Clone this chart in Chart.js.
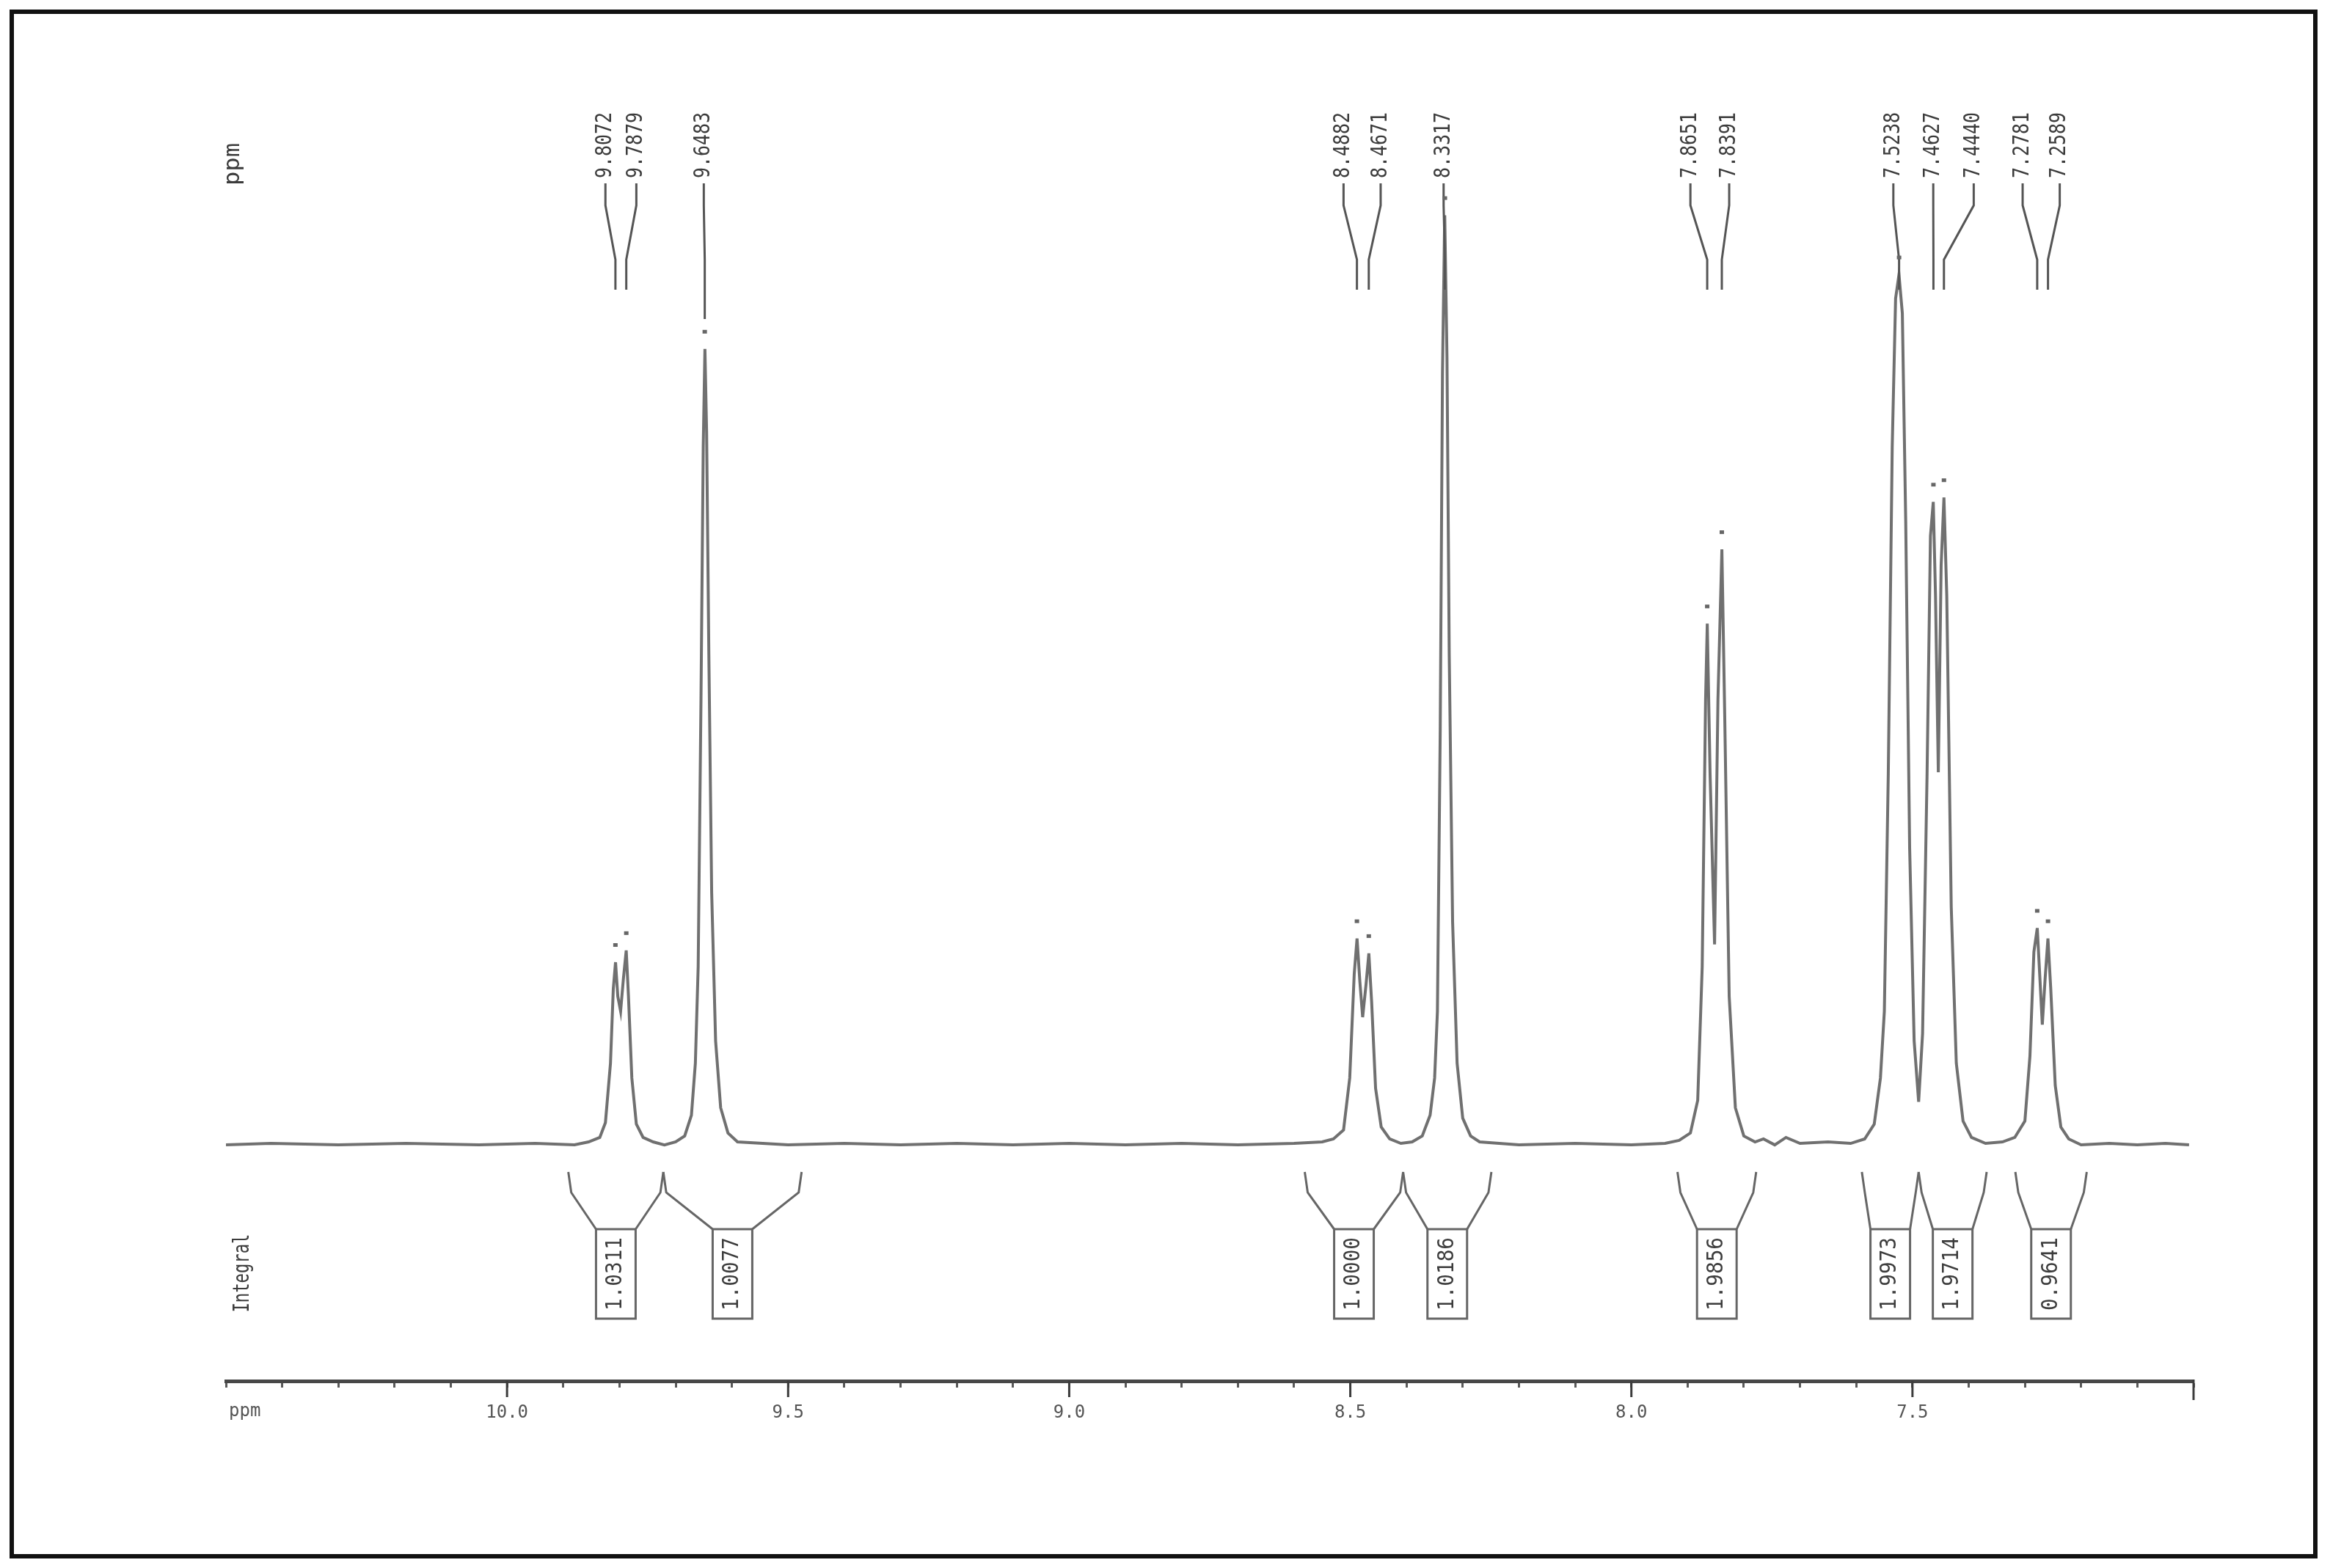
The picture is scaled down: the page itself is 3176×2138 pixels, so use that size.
<!DOCTYPE html>
<html>
<head>
<meta charset="utf-8">
<script src="https://cdn.jsdelivr.net/npm/chart.js@4.4.1/dist/chart.umd.min.js"></script>
<style>
  html, body { margin: 0; padding: 0; background: #fff; }
  canvas { display: block; }
</style>
</head>
<body>
<canvas id="spectrum" width="3176" height="2138"></canvas>
<script>
// 1H trace: chemical shift (ppm) and intensity (arbitrary units)
const shiftPpm = [
  10.50, 10.42, 10.30, 10.18, 10.05, 9.95, 9.88, 9.855, 9.835, 9.825,
  9.816, 9.811, 9.807, 9.803, 9.798, 9.793, 9.788, 9.784, 9.778, 9.770,
  9.758, 9.740, 9.720, 9.700, 9.684, 9.672, 9.665, 9.660, 9.655, 9.651,
  9.648, 9.645, 9.641, 9.636, 9.629, 9.620, 9.607, 9.590, 9.50, 9.40,
  9.30, 9.20, 9.10, 9.00, 8.90, 8.80, 8.70, 8.60, 8.55, 8.530,
  8.512, 8.501, 8.493, 8.488, 8.483, 8.478, 8.472, 8.467, 8.462, 8.455,
  8.445, 8.430, 8.410, 8.390, 8.372, 8.358, 8.350, 8.345, 8.340, 8.336,
  8.332, 8.328, 8.324, 8.318, 8.310, 8.300, 8.286, 8.270, 8.20, 8.10,
  8.00, 7.94, 7.915, 7.895, 7.882, 7.874, 7.868, 7.865, 7.860, 7.852,
  7.846, 7.839, 7.834, 7.826, 7.815, 7.800, 7.780, 7.765, 7.745, 7.725,
  7.700, 7.650, 7.610, 7.585, 7.568, 7.557, 7.550, 7.543, 7.536, 7.530,
  7.524, 7.518, 7.512, 7.505, 7.497, 7.489, 7.482, 7.474, 7.468, 7.463,
  7.459, 7.454, 7.449, 7.444, 7.439, 7.431, 7.422, 7.410, 7.395, 7.370,
  7.340, 7.318, 7.300, 7.291, 7.284, 7.278, 7.273, 7.269, 7.264, 7.259,
  7.254, 7.246, 7.236, 7.222, 7.200, 7.150, 7.100, 7.050, 7.008
];
const intensity = [
  0, 1, 0, 1, 0, 1, 0, 2, 5, 15,
  55, 105, 123, 100, 90, 112, 131, 100, 45, 14,
  5, 2, 0, 2, 6, 20, 55, 120, 300, 470,
  536, 480, 330, 170, 70, 25, 8, 2, 0, 1,
  0, 1, 0, 1, 0, 1, 0, 1, 2, 4,
  10, 45, 115, 139, 110, 86, 108, 129, 96, 38,
  12, 4, 1, 2, 6, 20, 45, 90, 280, 520,
  626, 530, 330, 150, 55, 18, 6, 2, 0, 1,
  0, 1, 3, 8, 30, 120, 300, 351, 250, 135,
  300, 401, 290, 100, 25, 6, 2, 4, 0, 5,
  1, 2, 1, 4, 14, 45, 90, 250, 470, 570,
  586, 560, 420, 200, 70, 29, 75, 250, 410, 433,
  370, 251, 390, 436, 370, 160, 55, 16, 5, 1,
  2, 5, 16, 60, 130, 146, 110, 81, 112, 139,
  105, 40, 12, 4, 0, 1, 0, 1, 0
];

// picked peaks
const peakPpm = [9.8072, 9.7879, 9.6483, 8.4882, 8.4671, 8.3317, 7.8651, 7.8391, 7.5238, 7.4627, 7.4440, 7.2781, 7.2589];
const peakHeight = [123, 131, 536, 139, 129, 626, 351, 401, 586, 433, 436, 146, 139];

// integrals
const integralFrom = [9.891, 9.722, 8.581, 8.406, 7.918, 7.590, 7.489, 7.317];
const integralTo = [9.722, 9.476, 8.406, 8.249, 7.778, 7.489, 7.368, 7.190];
const integralValue = ['1.0311', '1.0077', '1.0000', '1.0186', '1.9856', '1.9973', '1.9714', '0.9641'];

// axis
const axisFrom = 7.0;
const axisTo = 10.5;
const labelledTicks = [10.0, 9.5, 9.0, 8.5, 8.0, 7.5];

// layout of the annotation rows (pixels / ppm slots), not data
const labelSlot = [9.825, 9.770, 9.650, 8.512, 8.446, 8.334, 7.895, 7.826, 7.534, 7.463, 7.391, 7.304, 7.238];
const leaderEnd = [395, 395, 435, 395, 395, 395, 395, 395, 395, 395, 395, 395, 395];

const MONO = '"DejaVu Sans Mono", "Liberation Mono", monospace';
const INK = '#3c3c3c';

// rotated text, reading bottom to top, squeezed to a fixed length
function squeezedText(ctx, text, x, y, size, length) {
  ctx.save();
  ctx.translate(x, y);
  ctx.rotate(-Math.PI / 2);
  ctx.font = size + 'px ' + MONO;
  const w = ctx.measureText(text).width;
  ctx.scale(length / w, 1);
  ctx.textAlign = 'center';
  ctx.textBaseline = 'middle';
  ctx.fillText(text, 0, 0);
  ctx.restore();
}

const paperPlugin = {
  id: 'paper',
  beforeDraw(chart) {
    const { ctx, width, height } = chart;
    ctx.save();
    ctx.fillStyle = '#fff';
    ctx.fillRect(0, 0, width, height);
    ctx.restore();
  },
  afterDraw(chart) {
    const { ctx } = chart;
    const xs = chart.scales.x;
    const ys = chart.scales.y;
    const axisY = chart.chartArea.bottom;
    ctx.save();
    ctx.strokeStyle = INK;
    ctx.fillStyle = INK;
    ctx.lineCap = 'butt';

    // longer marks on labelled ticks
    ctx.lineWidth = 3;
    labelledTicks.forEach(v => {
      const px = xs.getPixelForValue(v);
      ctx.beginPath();
      ctx.moveTo(px, axisY);
      ctx.lineTo(px, axisY + 22);
      ctx.stroke();
    });
    // closing mark at the right end
    const endX = xs.getPixelForValue(axisFrom);
    ctx.beginPath();
    ctx.moveTo(endX, axisY - 2);
    ctx.lineTo(endX, axisY + 26);
    ctx.stroke();

    // unit at the left end of the axis
    ctx.font = '24px ' + MONO;
    ctx.textAlign = 'left';
    ctx.textBaseline = 'middle';
    ctx.fillStyle = '#555';
    ctx.fillText('ppm', xs.getPixelForValue(axisTo) + 4, axisY + 42);

    // peak labels with leaders
    ctx.fillStyle = INK;
    ctx.strokeStyle = '#555';
    ctx.lineWidth = 3;
    peakPpm.forEach((p, i) => {
      const lx = xs.getPixelForValue(labelSlot[i]);
      const px = xs.getPixelForValue(p);
      squeezedText(ctx, p.toFixed(4), lx, 198, 30, 90);
      ctx.beginPath();
      ctx.moveTo(lx, 250);
      ctx.lineTo(lx, 280);
      ctx.lineTo(px, 354);
      ctx.lineTo(px, leaderEnd[i]);
      ctx.stroke();
      // peak-pick mark
      const top = ys.getPixelForValue(peakHeight[i]);
      ctx.fillStyle = '#666';
      ctx.fillRect(px - 3, top - 26, 6, 5);
      ctx.fillStyle = INK;
    });
    squeezedText(ctx, 'ppm', 318, 224, 30, 58);

    // integral brackets and boxes
    ctx.strokeStyle = '#666';
    ctx.lineWidth = 3;
    integralFrom.forEach((a, i) => {
      const xl = xs.getPixelForValue(a);
      const xr = xs.getPixelForValue(integralTo[i]);
      const cx = (xl + xr) / 2;
      const bl = cx - 27, br = cx + 27;
      ctx.beginPath();
      ctx.moveTo(xl, 1598);
      ctx.lineTo(xl + 4, 1626);
      ctx.lineTo(bl, 1676);
      ctx.moveTo(xr, 1598);
      ctx.lineTo(xr - 4, 1626);
      ctx.lineTo(br, 1676);
      ctx.stroke();
      ctx.strokeRect(bl, 1676, br - bl, 122);
      squeezedText(ctx, integralValue[i], cx, 1737, 30, 100);
    });
    squeezedText(ctx, 'Integral', 331, 1736, 30, 107);

    // frame
    ctx.strokeStyle = '#111';
    ctx.lineWidth = 6;
    ctx.strokeRect(16, 16, 3140, 2106);
    ctx.restore();
  }
};

const ctx = document.getElementById('spectrum').getContext('2d');
new Chart(ctx, {
  type: 'line',
  data: {
    datasets: [{
      data: shiftPpm.map((x, i) => ({ x, y: intensity[i] })),
      borderColor: '#707070',
      borderWidth: 4,
      pointRadius: 0,
      tension: 0,
      fill: false
    }]
  },
  options: {
    responsive: false,
    animation: false,
    devicePixelRatio: 1,
    layout: { padding: { left: 308, right: 186, top: 81, bottom: 0 } },
    plugins: {
      legend: { display: false },
      tooltip: { enabled: false }
    },
    scales: {
      x: {
        type: 'linear',
        reverse: true,
        min: axisFrom,
        max: axisTo,
        afterFit: scale => { scale.height = 255; },
        border: { display: true, color: '#474747', width: 5 },
        grid: { drawOnChartArea: false, drawTicks: true, tickLength: 9, tickColor: '#5a5a5a', tickWidth: 3 },
        ticks: {
          stepSize: 0.1,
          autoSkip: false,
          maxRotation: 0,
          padding: 20,
          color: '#555',
          font: { family: MONO, size: 24 },
          callback: v => {
            const r = Math.round(v * 10) / 10;
            return labelledTicks.some(t => Math.abs(t - r) < 1e-6) ? r.toFixed(1) : '';
          }
        }
      },
      y: { display: false, min: -159, max: 731 }
    }
  },
  plugins: [paperPlugin]
});
</script>
</body>
</html>
